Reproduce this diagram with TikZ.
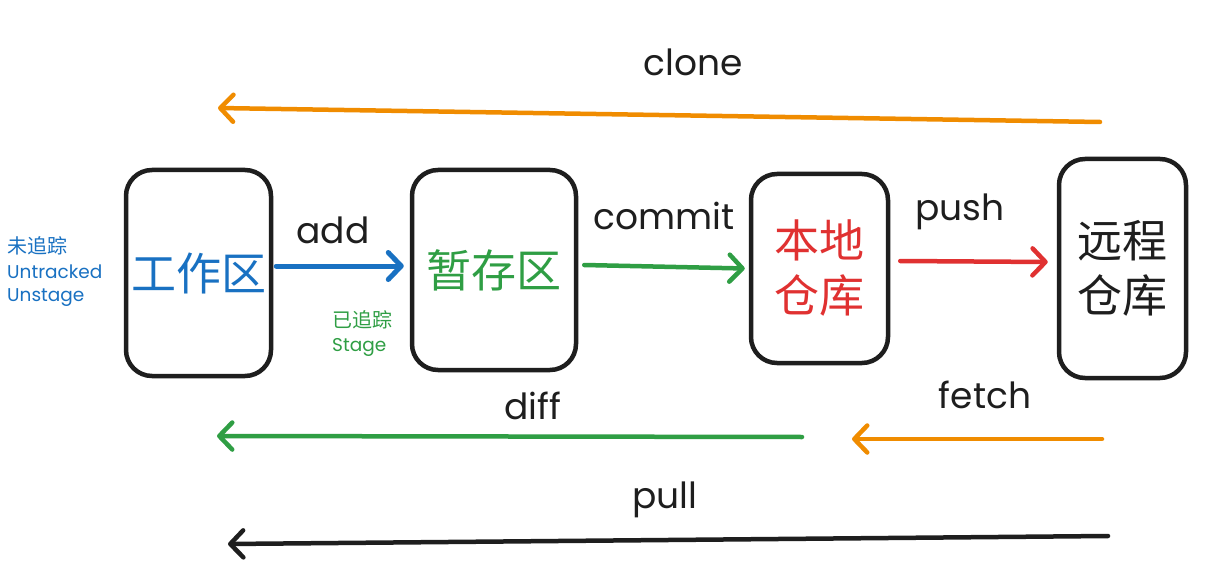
\documentclass[tikz,border=0pt]{standalone}
\usepackage{fontspec}
\setmainfont{Poppins}
\newfontfamily\cjk{Noto Sans CJK SC}
\usetikzlibrary{arrows.meta}
\definecolor{cblue}{HTML}{1971C2}
\definecolor{cgreen}{HTML}{2F9E44}
\definecolor{cred}{HTML}{E03131}
\definecolor{corange}{HTML}{F08C00}
\definecolor{cblack}{HTML}{1E1E1E}
\begin{document}
\begin{tikzpicture}[x=1pt,y=-1pt,
  box/.style={draw=cblack, line width=4.5pt, rounded corners=26pt, inner sep=0pt, align=center, font=\cjk\fontsize{45}{55}\selectfont},
  conn/.style={line width=4.5pt, line cap=round, -{Straight Barb[length=13pt,width=27pt,round]}},
  lbl/.style={text=cblack, font=\fontsize{36}{40}\selectfont, inner sep=0pt},
  note/.style={anchor=west, inner sep=0pt, font=\fontsize{18.5}{20}\selectfont},
  notecjk/.style={anchor=west, inner sep=0pt, font=\cjk\fontsize{20}{22}\selectfont}]
\useasboundingbox (0,0) rectangle (1227,583);
\fill[white] (0,0) rectangle (1227,583);

% boxes
\node[box, minimum width=145pt, minimum height=206pt, text=cblue] (wk) at (198.5,273) {工作区};
\node[box, minimum width=164pt, minimum height=200pt, text=cgreen] (stg) at (494,270) {暂存区};
\node[box, minimum width=137pt, minimum height=189pt, text=cred] (loc) at (819.5,268.5) {本地\\仓库};
\node[box, minimum width=127pt, minimum height=219pt, text=cblack] (rem) at (1122.5,268.5) {远程\\仓库};

% side notes
\node[notecjk, text=cblue] (n1) at (7,246) {未追踪};
\node[note, text=cblue] (n2) at (7,272) {Untracked};
\node[note, text=cblue] (n3) at (7,298) {Unstage};
\node[notecjk, text=cgreen] (n4) at (332,320) {已追踪};
\node[note, text=cgreen] (n5) at (332,347) {Stage};

% horizontal connectors between boxes
\draw[conn, draw=cblue, line width=5pt] ([shift={(3,-7)}]wk.east) -- ([shift={(-6,-4)}]stg.west);
\draw[conn, draw=cgreen] ([shift={(6,-5)}]stg.east) -- ([shift={(-4,0)}]loc.west);
\draw[conn, draw=cred] ([shift={(10,-7.5)}]loc.east) -- ([shift={(-9,-6.5)}]rem.west);

\node[lbl] (ladd) at (333,230) {add};
\node[lbl] (lcommit) at (664,216) {commit};
\node[lbl] (lpush) at (960,212) {push};

% long connectors
\coordinate (cloneS) at (1100,122);
\coordinate (cloneE) at (218,108);
\coordinate (diffS) at (802,437);
\coordinate (diffE) at (217,436);
\coordinate (fetchS) at (1102,439);
\coordinate (fetchE) at (852,439);
\coordinate (pullS) at (1108,536);
\coordinate (pullE) at (228,544);

\draw[conn, draw=corange] (cloneS) -- (cloneE);
\draw[conn, draw=cgreen] (diffS) -- (diffE);
\draw[conn, draw=corange] (fetchS) -- (fetchE);
\draw[conn, draw=cblack] (pullS) -- (pullE);

\node[lbl] (lclone) at (693,62) {clone};
\node[lbl] (ldiff) at (533,406) {diff};
\node[lbl] (lfetch) at (985,395) {fetch};
\node[lbl] (lpull) at (665,500) {pull};
\end{tikzpicture}
\end{document}
